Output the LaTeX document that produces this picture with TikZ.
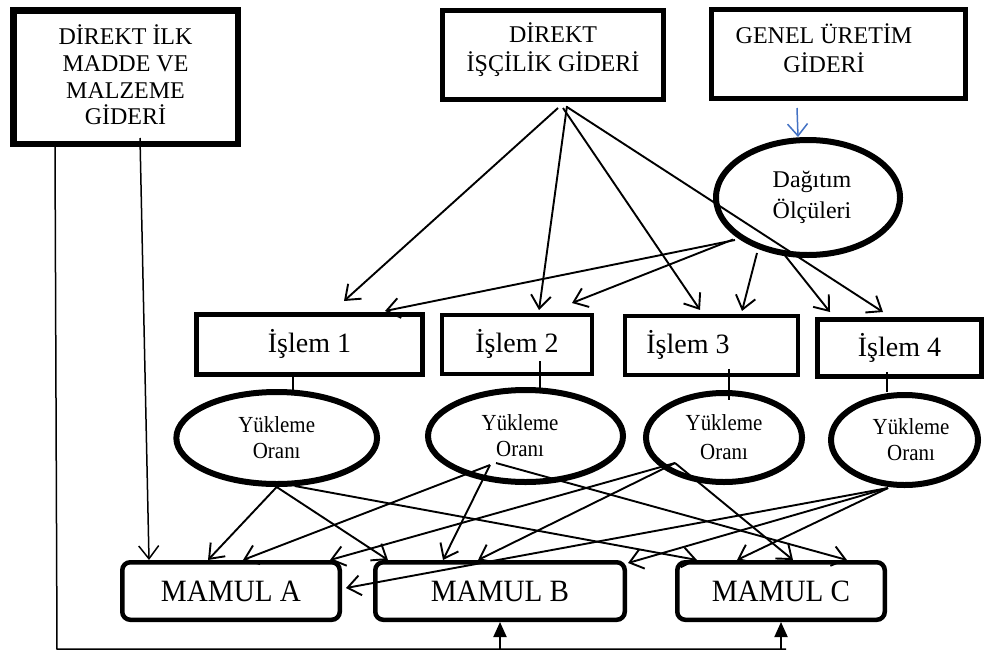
\documentclass[tikz,border=0pt]{standalone}
\usepackage{fontspec}
\setmainfont{Liberation Serif}
\newfontfamily\condserif[FakeStretch=0.91]{Liberation Serif}
\newfontfamily\prodserif[FakeStretch=0.94]{Liberation Serif}
\usetikzlibrary{arrows.meta,calc,shapes.geometric}

\begin{document}
\begin{tikzpicture}[x=1pt,y=-1pt,
  costbox/.style={draw, rectangle, inner sep=0pt},
  costtext/.style={align=center, inner sep=0pt, font=\fontsize{24}{28}\selectfont},
  procbox/.style={draw, rectangle, inner sep=0pt, font=\fontsize{28}{32}\selectfont},
  measure/.style={draw, ellipse, inner sep=0pt, align=center, line width=6pt,
    font=\fontsize{24}{31}\selectfont},
  rate/.style={draw, ellipse, inner sep=0pt, align=center, line width=6pt,
    font=\condserif\fontsize{23}{26}\selectfont},
  product/.style={draw, rectangle, rounded corners=8pt, inner sep=0pt, line width=4.5pt,
    minimum height=57.5pt, font=\prodserif\fontsize{31}{34}\selectfont},
  flow/.style={line width=1.9pt, -{Straight Barb[length=13pt,width=20pt]}},
  link/.style={line width=1.3pt},
  feed/.style={line width=1.9pt, -{Triangle[length=15pt,width=13pt]}},
  bracket/.style={line width=1.5pt},
]
\fill[white] (0,0) rectangle (984,651);
\useasboundingbox (0,0) rectangle (984,651);

% cost sources
\node[costbox, line width=6.5pt, minimum width=224.5pt, minimum height=133.5pt] (dilk) at (125.5,77) {};
\node[costtext, font=\fontsize{24}{26.7}\selectfont] (dilk-t) at (125.5,75) {DİREKT İLK\\MADDE VE\\MALZEME\\GİDERİ};
\node[costbox, line width=5pt, minimum width=221pt, minimum height=89pt] (disc) at (553,54.5) {};
\node[costtext, font=\fontsize{24}{29}\selectfont] (disc-t) at (553,50) {DİREKT\\İŞÇİLİK GİDERİ};
\node[costbox, line width=5pt, minimum width=254pt, minimum height=89pt] (genel) at (838.5,54) {};
\node[costtext, font=\fontsize{24}{29}\selectfont] (genel-t) at (824,48) {GENEL ÜRETİM\\GİDERİ};

% allocation bases
\node[measure, minimum width=184pt, minimum height=115pt] (dag) at (808,197.5) {\hspace*{8pt}Dağıtım\\\hspace*{8pt}Ölçüleri};

% processes
\node[procbox, line width=5pt, minimum width=226pt, minimum height=60pt] (p1) at (309.5,344) {İşlem 1};
\node[procbox, line width=4pt, minimum width=150pt, minimum height=59pt] (p2) at (517,344) {İşlem 2};
\node[procbox, line width=4pt, minimum width=173pt, minimum height=58.7pt] (p3) at (711.5,345.3) {\hspace*{-47pt}İşlem 3};
\node[procbox, line width=5pt, minimum width=164pt, minimum height=57pt] (p4) at (899.5,348) {İşlem 4};

% loading rates
\node[rate, minimum width=200.7pt, minimum height=92pt] (y1) at (276.7,438) {Yükleme\\Oranı};
\node[rate, minimum width=195pt, minimum height=92pt] (y2) at (525.5,436) {\hspace*{-11pt}Yükleme\\\hspace*{-11pt}Oranı};
\node[rate, minimum width=156pt, minimum height=89pt, font=\condserif\fontsize{23}{29}\selectfont] (y3) at (724,437.5) {Yükleme\\Oranı};
\node[rate, minimum width=147pt, minimum height=90pt] (y4) at (904.5,440) {\hspace*{13pt}Yükleme\\\hspace*{13pt}Oranı};

% products
\node[product, minimum width=217.5pt] (ma) at (231,591) {\raisebox{-2.5pt}{MAMUL A}};
\node[product, minimum width=249.5pt] (mb) at (500,591) {\raisebox{-2.5pt}{MAMUL B}};
\node[product, minimum width=207.5pt] (mc) at (781,591) {\raisebox{-2.5pt}{MAMUL C}};

% overhead into allocation bases
\draw[line width=1.5pt, color={rgb,255:red,68;green,114;blue,196},
  -{Straight Barb[length=12pt,width=20pt]}]
  ($(genel.south)+(-41.5,7)$) -- ($(dag.north)+(-10,0)$);

% direct labour to processes
\draw[flow] ($(disc.south)+(5,6.5)$) -- ($(p1.north)+(34.5,-10.5)$);
\draw[flow] ($(disc.south)+(14,4.5)$) -- ($(p2.north)+(22,-2.5)$);
\draw[flow] ($(disc.south)+(10,6.5)$) -- ($(p3.north)+(-11.5,-4)$);
\draw[flow] ($(disc.south)+(14,5.5)$) -- ($(p4.north)+(-16.5,-5)$);

% allocation bases to processes
\draw[flow] ($(dag.center)+(-73,42.5)$) -- ($(p1.north)+(75.5,-0.5)$);
\draw[flow] ($(dag.center)+(-75,42)$) -- ($(p2.north)+(55,-9.5)$);
\draw[flow] ($(dag.center)+(-51,55.5)$) -- ($(p3.north)+(30.5,-3)$);
\draw[flow] ($(dag.center)+(-25,55.5)$) -- ($(p4.north)+(-69.5,-5)$);

% processes to their loading rates
\draw[link] ($(p1.south)+(-16.5,0)$) -- ($(y1.north)+(16.3,1)$);
\draw[link] ($(p2.south)+(23,-14.5)$) -- ($(y2.north)+(14.5,1)$);
\draw[link] ($(p3.south)+(17.5,-7.7)$) -- ($(y3.north)+(5,10)$);
\draw[link] ($(p4.south)+(-12.5,-7)$) -- ($(y4.north)+(-17.5,0)$);

% loading rates to products
\draw[flow] (y1.south) -- ($(ma.north west)+(88,0)$);
\draw[flow] (y1.south) -- ($(mb.north west)+(15,0)$);
\draw[flow] ($(y1.south)+(18,-1)$) -- ($(mc.north west)+(22,0)$);

\draw[flow] ($(y2.center)+(-35.5,29)$) -- ($(ma.north west)+(123,0)$);
\draw[flow] ($(y2.center)+(-35.5,29)$) -- ($(mb.north west)+(70,0)$);
\draw[flow] ($(y2.center)+(-29.5,27)$) -- ($(mc.north west)+(172,0)$);

\draw[flow] ($(y3.center)+(-49,25.5)$) -- ($(ma.north west)+(210,0)$);
\draw[flow] ($(y3.center)+(-49,25.5)$) -- ($(mb.north west)+(105,0)$);
\draw[flow] ($(y3.center)+(-49,25.5)$) -- ($(mc.north west)+(118,0)$);

\draw[flow] ($(y4.center)+(-16.5,48)$) -- ($(ma.east)+(4,-3)$);
\draw[flow] ($(y4.center)+(-16.5,48)$) -- ($(mb.north east)+(1,3)$);
\draw[flow] ($(y4.center)+(-16.5,48)$) -- ($(mc.north west)+(62,0)$);

% direct material straight to product A and along the bottom to B and C
\draw[flow, line width=1.5pt] ($(dilk.south)+(14.5,-9)$) -- ($(ma.north west)+(29,0)$);
\coordinate (bl) at (57,649);
\coordinate (br) at (786,649);
\draw[bracket] ($(dilk.south west)+(45,0)$) -- (bl) -- (br);
\draw[feed] (mb.south |- bl) -- (mb.south);
\draw[feed] (mc.south |- bl) -- (mc.south);
\end{tikzpicture}
\end{document}
